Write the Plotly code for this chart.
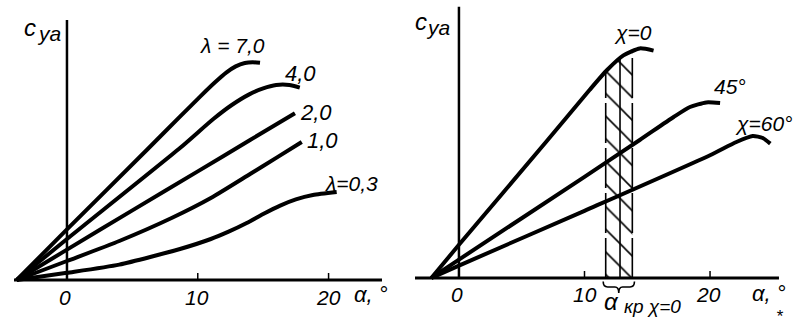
import numpy as np
import plotly.graph_objects as go

# ---------------- data ----------------
# Left panel: c_ya vs alpha for several aspect ratios lambda
alpha_l70 = [-3.84, 0, 6.1, 8.64, 10.2, 11.3, 12.2, 12.9, 13.6, 14.2, 14.76]
cya_l70 = [0, 0.253, 0.65, 0.817, 0.918, 0.987, 1.038, 1.068, 1.085, 1.089, 1.086]
alpha_l40 = [-3.84, 0, 8.64, 11.19, 12.6, 13.9, 15.0, 16.0, 17.0, 17.8]
cya_l40 = [0, 0.205, 0.66, 0.805, 0.875, 0.927, 0.958, 0.975, 0.975, 0.962]
alpha_l20 = [-3.84, 0, 5, 10, 14, 17.43]
cya_l20 = [0, 0.152, 0.348, 0.543, 0.70, 0.834]
alpha_l10 = [-3.84, 0, 4, 8, 11, 14, 16.03, 17.95]
cya_l10 = [0, 0.095, 0.195, 0.31, 0.41, 0.53, 0.612, 0.69]
alpha_l03 = [-3.84, 0, 4, 8.64, 11, 12.4, 13.74, 15, 16.3, 17.5, 18.8, 20.62]
cya_l03 = [0, 0.036, 0.077, 0.155, 0.205, 0.243, 0.285, 0.33, 0.372, 0.403, 0.425, 0.44]

# Right panel: c_ya vs alpha for sweep angles chi
alpha_x0 = [-2.2, 0, 7, 10.4, 11.8, 13.1, 14.4, 15.5]
cya_x0 = [0, 0.166, 0.685, 0.94, 1.04, 1.113, 1.148, 1.137]
alpha_x45 = [-2.2, 0, 10, 14.4, 17.1, 18.4, 19.7, 20.8]
cya_x45 = [0, 0.092, 0.506, 0.69, 0.805, 0.855, 0.878, 0.875]
alpha_x60 = [-2.2, 0, 10, 20, 22.1, 23.4, 24.2, 24.8]
cya_x60 = [0, 0.062, 0.336, 0.614, 0.68, 0.71, 0.70, 0.672]

# critical-angle band for chi = 0
alpha_cr = [11.69, 12.83, 13.81]   # lower edge, middle, upper edge

# axis ticks
tick_vals = [0, 10, 20]
tick_text = ["0", "10", "20"]

# ---------------- figure ----------------
W, H = 798, 327
FONT = "Liberation Sans, Arial, sans-serif"
fig = go.Figure()

CURVE = dict(color="black", width=4, shape="spline", smoothing=0.6)

# hatched band (behind curves)
xs_top = np.linspace(alpha_cr[0], alpha_cr[2], 12)
top = np.interp(xs_top, alpha_x0, cya_x0)
band_x = [alpha_cr[0]] + list(xs_top) + [alpha_cr[2], alpha_cr[0]]
band_y = [0] + list(top) + [0, 0]
fig.add_trace(go.Scatter(
    x=band_x, y=band_y, xaxis="x2", yaxis="y2", mode="none", fill="toself",
    fillcolor="rgba(0,0,0,0)",
    fillpattern=dict(shape="\\", size=16, solidity=0.1, fgcolor="black",
                     bgcolor="rgba(0,0,0,0)", fgopacity=1),
    hoverinfo="skip"))
for a, dash in zip(alpha_cr, ["40px,5px", "solid", "40px,5px"]):
    fig.add_trace(go.Scatter(
        x=[a, a], y=[0, float(np.interp(a, alpha_x0, cya_x0))],
        xaxis="x2", yaxis="y2", mode="lines",
        line=dict(color="black", width=1.6, dash=dash), hoverinfo="skip"))

for xs, ys in [(alpha_l70, cya_l70), (alpha_l40, cya_l40), (alpha_l20, cya_l20),
               (alpha_l10, cya_l10), (alpha_l03, cya_l03)]:
    fig.add_trace(go.Scatter(x=xs, y=ys, xaxis="x", yaxis="y", mode="lines", line=CURVE))
for xs, ys in [(alpha_x0, cya_x0), (alpha_x45, cya_x45), (alpha_x60, cya_x60)]:
    fig.add_trace(go.Scatter(x=xs, y=ys, xaxis="x2", yaxis="y2", mode="lines", line=CURVE))

# axes (pixel-consistent ranges)
fig.update_layout(
    width=W, height=H, margin=dict(l=0, r=0, t=0, b=0),
    paper_bgcolor="white", plot_bgcolor="white", showlegend=False,
    xaxis=dict(domain=[0, 0.5], range=[-5.120, 25.385], visible=False),
    yaxis=dict(domain=[0, 1], range=[-0.235, 1.4], visible=False),
    xaxis2=dict(domain=[0.5, 1], range=[-4.775, 27.006], visible=False),
    yaxis2=dict(domain=[0, 1], range=[-0.245, 1.39], visible=False, anchor="x2"),
)

shapes = []
def seg(xr, yr, x0, y0, x1, y1, w):
    shapes.append(dict(type="line", xref=xr, yref=yr, x0=x0, y0=y0, x1=x1, y1=y1,
                       line=dict(color="black", width=w)))

# left axes
seg("x", "y", -4.05, 0, 24.085, 0, 3)
seg("x", "y", 0, 0, 0, 1.30, 2.5)
# right axes
seg("x2", "y2", -3.50, 0, 25.49, 0, 3)
seg("x2", "y2", 0, 0, 0, 1.3565, 2.5)
for v in tick_vals[1:]:
    seg("x", "y", v, 0, v, 0.035, 1.5)
    seg("x2", "y2", v, 0, v, 0.035, 1.5)

# brace under the critical band
b0, b1 = alpha_cr[0] - 0.2, alpha_cr[2] + 0.17
bm = alpha_cr[1] - 0.1
shapes.append(dict(
    type="path", xref="x2", yref="y2",
    path=(f"M {b0},-0.018 Q {b0},-0.045 {b0+0.35},-0.045 "
          f"L {bm-0.3},-0.045 Q {bm},-0.045 {bm},-0.075 "
          f"Q {bm},-0.045 {bm+0.3},-0.045 L {b1-0.35},-0.045 "
          f"Q {b1},-0.045 {b1},-0.018"),
    line=dict(color="black", width=1.6)))
fig.update_layout(shapes=shapes)

ann = []
def txt(xr, yr, x, y, s, size=21, xanchor="center"):
    ann.append(dict(xref=xr, yref=yr, x=x, y=y, text=s, showarrow=False,
                    xanchor=xanchor, yanchor="middle",
                    font=dict(family=FONT, size=size, color="black", style="italic")))

# tick labels
for v, t, xl, xr in zip(tick_vals, tick_text, [-0.15, 9.94, 19.96], [-0.15, 10.04, 19.84]):
    txt("x", "y", xl, -0.0875, t)
    txt("x2", "y2", xr, -0.08, t)

# left labels
txt("x", "y", -2.83, 1.262, "c", 24)
txt("x", "y", -1.40, 1.232, "ya", 21)
txt("x", "y", 23.28, -0.0725, "α, °", 22)
txt("x", "y", 12.62, 1.175, "λ = 7,0")
txt("x", "y", 17.89, 1.035, "4,0", 22)
txt("x", "y", 19.04, 0.8375, "2,0", 22)
txt("x", "y", 19.50, 0.70, "1,0", 22)
txt("x", "y", 21.79, 0.4825, "λ=0,3")

# right labels
txt("x2", "y2", -3.02, 1.282, "c", 24)
txt("x2", "y2", -1.65, 1.255, "ya", 21)
txt("x2", "y2", 24.71, -0.075, "α, °", 22)
txt("x2", "y2", 13.87, 1.2275, "χ=0")
txt("x2", "y2", 21.59, 0.96, "45°")
txt("x2", "y2", 24.22, 0.775, "χ=60°")
txt("x2", "y2", 12.15, -0.115, "α", 24)
txt("x2", "y2", 12.95, -0.14, "кр χ=0", 19, xanchor="left")
txt("x2", "y2", 25.57, -0.19, "*", 17)
fig.update_layout(annotations=ann)

fig.write_html("out.html")
